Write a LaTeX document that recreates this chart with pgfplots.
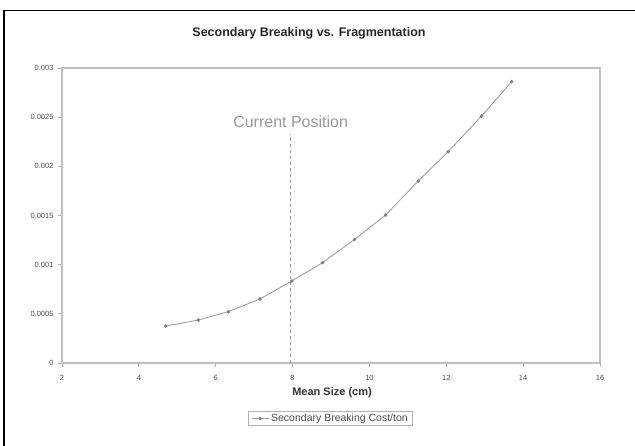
\documentclass[border=0pt]{standalone}
\usepackage{pgfplots}
\pgfplotsset{compat=1.18}
\usepackage{fontspec}
\setmainfont{Liberation Sans}
\begin{document}
\begin{tikzpicture}[x=1pt,y=1pt]
\useasboundingbox (0,0) rectangle (635,445);
\clip (0,0) rectangle (635,445);
\draw[black, line width=1.2pt] (4,-10) -- (4,434.5) -- (645,434.5);
\node[font=\bfseries\fontsize{12.5}{14}\selectfont, text=black!85] at (309,412) {Secondary Breaking vs. Fragmentation};
\node[font=\bfseries\fontsize{11}{13}\selectfont, text=black!80] at (332,52) {Mean Size (cm)};
\begin{axis}[
  at={(62pt,82pt)}, anchor=south west,
  scale only axis, width=538pt, height=295pt,
  xmin=2, xmax=16, ymin=0, ymax=0.003,
  xtick={2,4,...,16},
  ytick={0,0.0005,0.001,0.0015,0.002,0.0025,0.003},
  scaled y ticks=false,
  yticklabel style={/pgf/number format/fixed, /pgf/number format/precision=4},
  /pgf/number format/assume math mode=true,
  ticklabel style={font=\fontsize{7.5}{8}\selectfont, text=black!70},
  xtick pos=bottom, ytick pos=left,
  tick align=outside, major tick length=4pt,
  tick style={gray!60, line width=0.8pt},
  axis line style={gray!50, line width=1.2pt},
  xticklabel style={yshift=-5pt},
  yticklabel style={xshift=-1pt},
  legend style={at={(0.499,-0.188)}, anchor=center, draw=gray!60, line width=0.6pt,
    font=\fontsize{10.5}{11}\selectfont, text=black!70, inner xsep=3pt, inner ysep=0.5pt,
    /tikz/every even column/.append style={column sep=2pt}},
  legend cell align=left,
  clip=false,
]
\addplot[gray!75, line width=0.9pt, mark=*, mark size=1.3pt, mark options={fill=gray, draw=gray}]
coordinates {
(4.70,0.000376)
(5.55,0.000437)
(6.33,0.000522)
(7.15,0.000651)
(7.98,0.000834)
(8.78,0.00102)
(9.61,0.001256)
(10.42,0.001505)
(11.27,0.001851)
(12.05,0.002149)
(12.92,0.002512)
(13.70,0.002861)
};
\addlegendentry{Secondary Breaking Cost/ton}
\addplot[gray!80, dashed, line width=0.7pt, forget plot] coordinates {(7.95,0) (7.95,0.00233)};
\node[font=\fontsize{16}{18}\selectfont, text=gray!80] at (axis cs:7.95,0.00245) {Current Position};
\end{axis}
\end{tikzpicture}
\end{document}
